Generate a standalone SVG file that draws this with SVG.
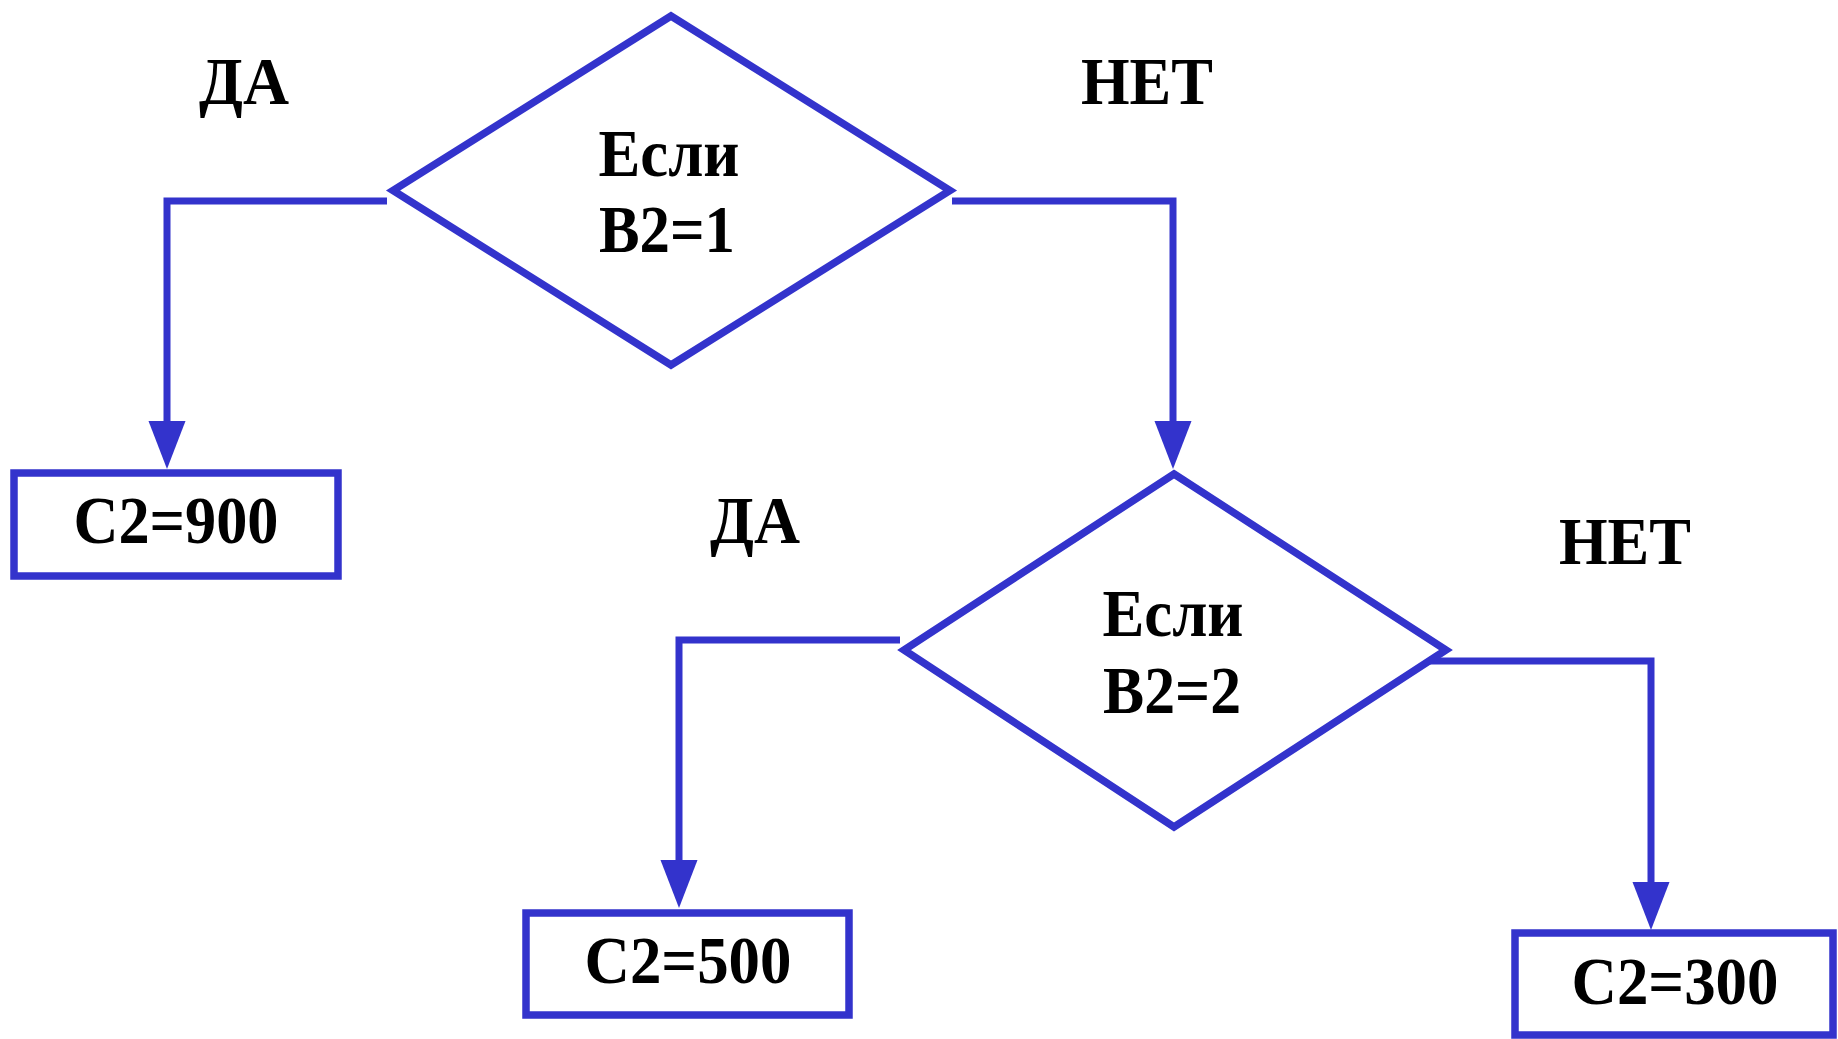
<svg xmlns="http://www.w3.org/2000/svg" width="1838" height="1039" viewBox="0 0 1838 1039">
  <style>
    .shape { fill: #ffffff; stroke: #3333cc; stroke-width: 7.5; }
    .conn { fill: none; stroke: #3333cc; stroke-width: 7; stroke-linecap: butt; }
    .txt { font-family: "Liberation Serif", "Times New Roman", serif; font-weight: bold; font-size: 67px; fill: #000000; text-anchor: middle; }
  </style>
  <defs>
    <marker id="head" markerUnits="userSpaceOnUse" markerWidth="50" markerHeight="40" refX="0" refY="18.5" orient="auto">
      <path d="M0,0 L48,18.5 L0,37 Z" fill="#3333cc"/>
    </marker>
  </defs>

  <rect width="1838" height="1039" fill="#ffffff"/>

  <!-- branch labels -->
  <g id="labels">
    <text class="txt" x="244" y="104" textLength="90" lengthAdjust="spacingAndGlyphs">ДА</text>
    <text class="txt" x="1147" y="104" textLength="132" lengthAdjust="spacingAndGlyphs">НЕТ</text>
    <text class="txt" x="755" y="543" textLength="90" lengthAdjust="spacingAndGlyphs">ДА</text>
    <text class="txt" x="1625" y="564" textLength="132" lengthAdjust="spacingAndGlyphs">НЕТ</text>
  </g>

  <!-- connectors -->
  <g id="connectors">
    <polyline class="conn" points="387,201 167,201 167,421" marker-end="url(#head)"/>
    <polyline class="conn" points="952,201 1173,201 1173,421" marker-end="url(#head)"/>
    <polyline class="conn" points="900,640 679,640 679,860" marker-end="url(#head)"/>
    <polyline class="conn" points="1430,661 1651,661 1651,882" marker-end="url(#head)"/>
  </g>

  <!-- decision: B2=1 -->
  <g id="cond1">
    <polygon class="shape" points="671,16 950,190.5 671,365 393,190.5"/>
    <text class="txt" x="669" y="176" textLength="141" lengthAdjust="spacingAndGlyphs">Если</text>
    <text class="txt" x="667" y="252" textLength="136" lengthAdjust="spacingAndGlyphs">B2=1</text>
  </g>

  <!-- decision: B2=2 -->
  <g id="cond2">
    <polygon class="shape" points="1174,474 1446,650 1174,827 904,650"/>
    <text class="txt" x="1173" y="636" textLength="141" lengthAdjust="spacingAndGlyphs">Если</text>
    <text class="txt" x="1172" y="713" textLength="138" lengthAdjust="spacingAndGlyphs">B2=2</text>
  </g>

  <!-- results -->
  <g id="res900">
    <rect class="shape" x="14" y="473" width="324" height="103"/>
    <text class="txt" x="176" y="543" textLength="205" lengthAdjust="spacingAndGlyphs">C2=900</text>
  </g>
  <g id="res500">
    <rect class="shape" x="526" y="913" width="323" height="102"/>
    <text class="txt" x="688" y="983" textLength="207" lengthAdjust="spacingAndGlyphs">C2=500</text>
  </g>
  <g id="res300">
    <rect class="shape" x="1515" y="933" width="318" height="102"/>
    <text class="txt" x="1675" y="1004" textLength="207" lengthAdjust="spacingAndGlyphs">C2=300</text>
  </g>
</svg>
